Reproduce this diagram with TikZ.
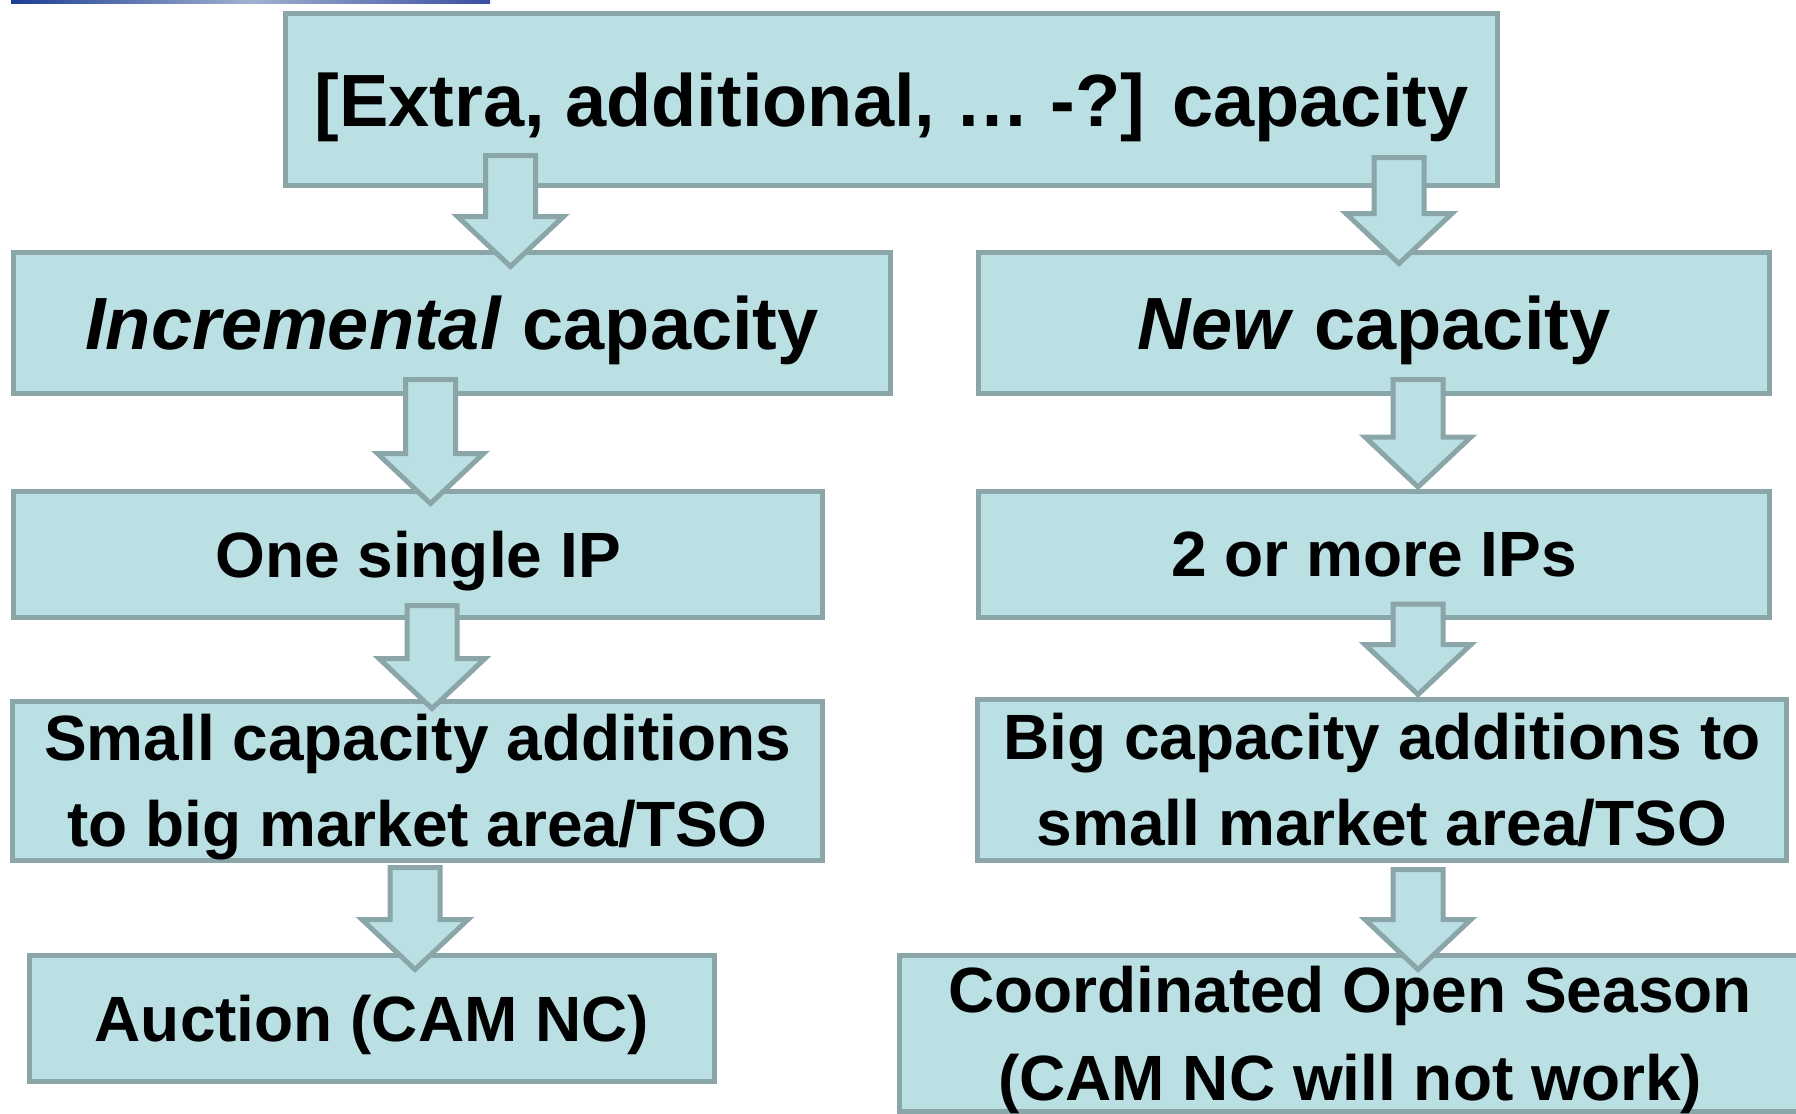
\documentclass[tikz,border=0pt]{standalone}
\usepackage{fontspec}
\setmainfont{Liberation Sans}
\usetikzlibrary{calc}

\definecolor{boxfill}{RGB}{187,224,228}
\definecolor{boxline}{RGB}{139,166,169}
\definecolor{bardark}{RGB}{28,62,148}
\definecolor{barmid}{RGB}{160,176,206}
\definecolor{barend}{RGB}{58,78,163}

% block arrow: source node, target node, x position (px),
% shaft start above the source's bottom edge (px), tip below the target's top edge (px)
\newcommand\blockarrow[5]{%
  \draw[arrowbox] let \p1=(#1.south), \p2=(#2.north), \p3=(#3,0),
      \n1={\y1+(#4)*0.5pt}, \n2={\y2-(#5)*0.5pt}, \n3={\y2-(#5)*0.5pt+25pt} in
    (\x3-12.5pt,\n1) -- (\x3+12.5pt,\n1)
    -- (\x3+12.5pt,\n3) -- (\x3+26.5pt,\n3)
    -- (\x3,\n2)
    -- (\x3-26.5pt,\n3) -- (\x3-12.5pt,\n3)
    -- cycle;}

\begin{document}
\begin{tikzpicture}[x=0.5pt,y=-0.5pt,
  box/.style={draw=boxline, fill=boxfill, line width=2.5pt, inner sep=0pt, outer sep=0pt},
  headtxt/.style={font=\fontsize{37}{44}\selectfont\bfseries, text height=26.5pt, text depth=0pt},
  bodytxt/.style={font=\fontsize{32}{43}\selectfont\bfseries, text height=22.9pt, text depth=0pt},
  twoline/.style={font=\fontsize{32}{43}\selectfont\bfseries, text height=65.9pt, text depth=0pt},
  arrowbox/.style={draw=boxline, fill=boxfill, line width=2.5pt, line join=miter}]

\useasboundingbox (0,0) rectangle (1796,1114);
\clip (0,0) rectangle (1796,1114);

% thin header bar at the top left
\shade[left color=bardark, right color=barend, middle color=barmid] (11,0) rectangle (490,3.5);

% boxes
\node[box, headtxt, minimum width=606pt, minimum height=86pt] (top) at (891.5,99.5)
  {[Extra, additional, … -?] capacity};
\node[box, headtxt, minimum width=438.5pt, minimum height=70.5pt] (inc) at (452,323)
  {\textit{Incremental} capacity};
\node[box, headtxt, minimum width=395.5pt, minimum height=70.5pt] (new) at (1374,323)
  {\textit{New} capacity};
\node[box, bodytxt, minimum width=404.5pt, minimum height=63pt] (one) at (418,554.5)
  {One single IP};
\node[box, bodytxt, minimum width=395.5pt, minimum height=63pt] (two) at (1374,554)
  {2 or more IPs};
\node[box, twoline, minimum width=405pt, minimum height=79.5pt] (small) at (417.5,781)
  {\begin{tabular}[b]{@{}c@{}}Small capacity additions\\to big market area/TSO\end{tabular}};
\node[box, twoline, minimum width=404.5pt, minimum height=80.5pt] (big) at (1382,780)
  {\begin{tabular}[b]{@{}c@{}}Big capacity additions to\\small market area/TSO\end{tabular}};
\node[box, bodytxt, minimum width=342.5pt, minimum height=63pt] (auction) at (372,1018.5)
  {Auction (CAM NC)};
\node[box, font=\fontsize{32}{44}\selectfont\bfseries, text height=66.9pt, text depth=-6.5pt,
      minimum width=450.5pt, minimum height=78pt] (coord) at (1350,1033.5)
  {\begin{tabular}[b]{@{}c@{}}Coordinated Open Season\\(CAM NC will not work)\end{tabular}};

% block arrows between the boxes
\blockarrow{top}{inc}{510.5}{30}{14}
\blockarrow{top}{new}{1399}{28}{11}
\blockarrow{inc}{one}{430.5}{14}{12}
\blockarrow{new}{two}{1418}{14}{-4}
\blockarrow{one}{small}{432}{12}{7}
\blockarrow{two}{big}{1418}{13}{-5}
\blockarrow{small}{auction}{415}{-7}{14}
\blockarrow{big}{coord}{1418}{-9}{14}
\end{tikzpicture}
\end{document}
